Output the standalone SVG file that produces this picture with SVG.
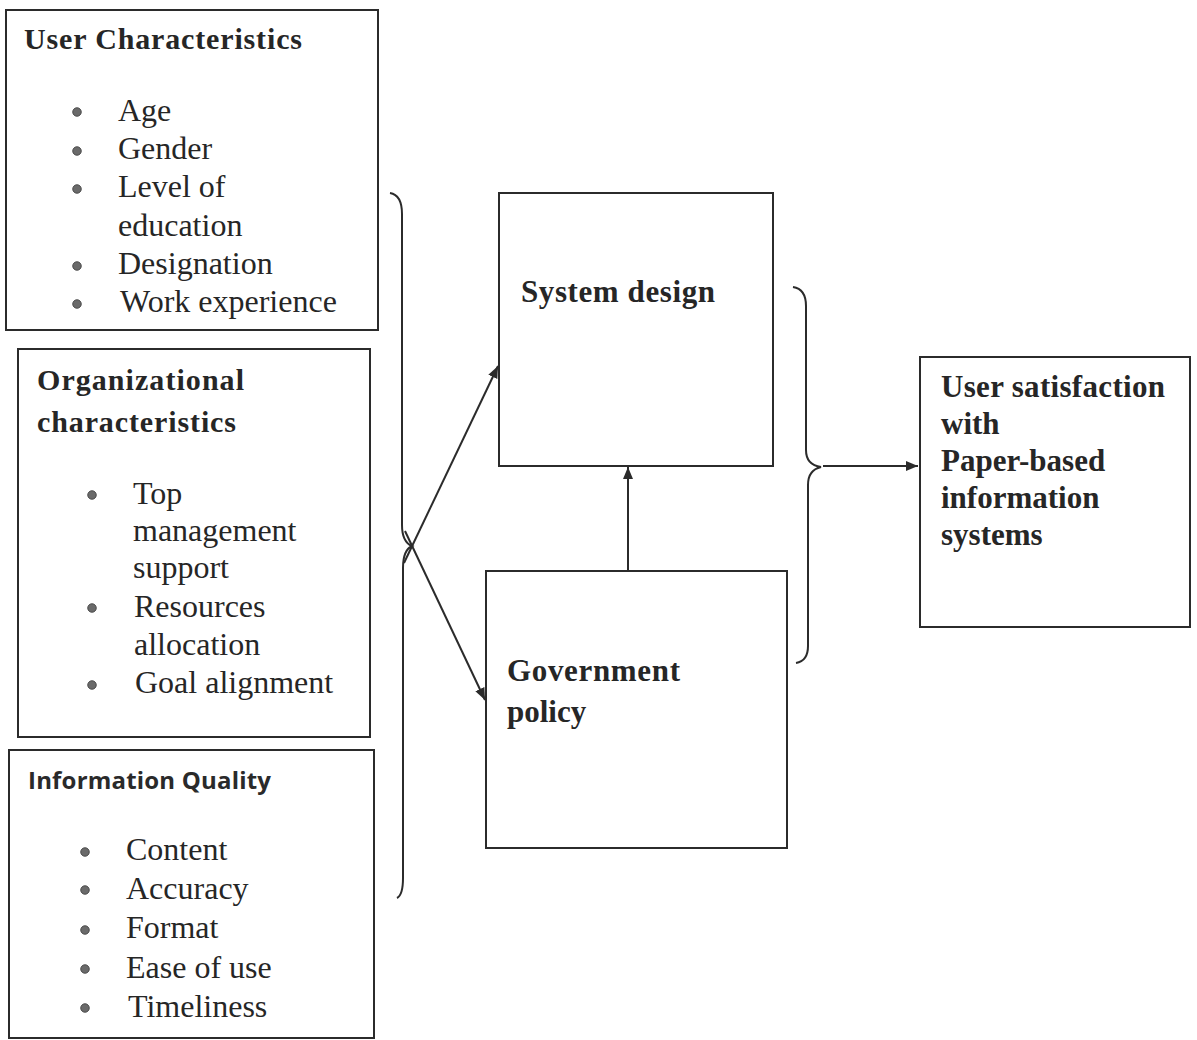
<svg xmlns="http://www.w3.org/2000/svg" width="1197" height="1040" viewBox="0 0 1197 1040">
<defs>
<style>
.box{fill:none;stroke:#2b2b2b;stroke-width:2}
.hd{font-family:"Liberation Serif","Times New Roman",serif;font-weight:bold;font-size:30px;fill:#262626}
.nd{font-family:"Liberation Serif","Times New Roman",serif;font-weight:bold;font-size:31px;fill:#262626}
.it{font-family:"Liberation Serif","Times New Roman",serif;font-size:32px;fill:#262626}
.sh{font-family:"Open Sans","Liberation Sans",sans-serif;font-weight:700;font-size:24px;fill:#2a2a2a}
.bl{fill:#6a6a6a;stroke:#3a3a3a;stroke-width:0.8}
.ln{fill:none;stroke:#2b2b2b;stroke-width:2}
</style>
<marker id="ah" viewBox="0 0 12 10" refX="12" refY="5" markerWidth="12" markerHeight="10" markerUnits="userSpaceOnUse" orient="auto">
<path d="M0,0 L12,5 L0,10 Z" fill="#2b2b2b"/>
</marker>
</defs>
<rect width="1197" height="1040" fill="#ffffff"/>

<g id="user-characteristics">
<rect class="box" x="6" y="10" width="372" height="320"/>
<text class="hd" x="24" y="49" textLength="278">User Characteristics</text>
<circle class="bl" cx="77" cy="112" r="4.3"/>
<circle class="bl" cx="77" cy="151" r="4.3"/>
<circle class="bl" cx="77" cy="189" r="4.3"/>
<circle class="bl" cx="77" cy="266" r="4.3"/>
<circle class="bl" cx="77" cy="304" r="4.3"/>
<text class="it" x="118" y="121">Age</text>
<text class="it" x="118" y="159">Gender</text>
<text class="it" x="118" y="197">Level of</text>
<text class="it" x="118" y="236">education</text>
<text class="it" x="118" y="274">Designation</text>
<text class="it" x="120" y="312">Work experience</text>
</g>

<g id="organizational-characteristics">
<rect class="box" x="18" y="349" width="352" height="388"/>
<text class="hd" x="37" y="390" textLength="207">Organizational</text>
<text class="hd" x="37" y="432" textLength="199">characteristics</text>
<circle class="bl" cx="92" cy="495" r="4.3"/>
<circle class="bl" cx="92" cy="608" r="4.3"/>
<circle class="bl" cx="92" cy="685" r="4.3"/>
<text class="it" x="133" y="504">Top</text>
<text class="it" x="133" y="541">management</text>
<text class="it" x="133" y="578">support</text>
<text class="it" x="134" y="617">Resources</text>
<text class="it" x="134" y="655">allocation</text>
<text class="it" x="135" y="693">Goal alignment</text>
</g>

<g id="information-quality">
<rect class="box" x="9" y="750" width="365" height="288"/>
<text class="sh" x="28" y="789" textLength="243">Information Quality</text>
<circle class="bl" cx="85" cy="852" r="4.3"/>
<circle class="bl" cx="85" cy="890" r="4.3"/>
<circle class="bl" cx="85" cy="930" r="4.3"/>
<circle class="bl" cx="85" cy="969" r="4.3"/>
<circle class="bl" cx="85" cy="1008" r="4.3"/>
<text class="it" x="126" y="860">Content</text>
<text class="it" x="126" y="899">Accuracy</text>
<text class="it" x="126" y="938">Format</text>
<text class="it" x="126" y="978">Ease of use</text>
<text class="it" x="128" y="1017">Timeliness</text>
</g>

<g id="system-design">
<rect class="box" x="499" y="193" width="274" height="273"/>
<text class="nd" x="521" y="302" textLength="194">System design</text>
</g>

<g id="government-policy">
<rect class="box" x="486" y="571" width="301" height="277"/>
<text class="nd" x="507" y="681" textLength="173">Government</text>
<text class="nd" x="507" y="722">policy</text>
</g>

<g id="user-satisfaction">
<rect class="box" x="920" y="357" width="270" height="270"/>
<text class="nd" x="941" y="397" textLength="224">User satisfaction</text>
<text class="nd" x="941" y="434">with</text>
<text class="nd" x="941" y="471">Paper-based</text>
<text class="nd" x="941" y="508">information</text>
<text class="nd" x="941" y="545">systems</text>
</g>

<g id="connectors">
<path class="ln" d="M390,193 Q402,195 402,214 L402,525 Q402,542 412,546 Q403,550 403,568 L403,878 Q403,895 397,898"/>
<path class="ln" d="M793,287 Q806,289 806,306 L806,450 Q806,465 821,467 Q808,470 808,485 L808,646 Q808,661 796,663"/>
<line class="ln" x1="404" y1="563" x2="498" y2="366" marker-end="url(#ah)"/>
<line class="ln" x1="405" y1="531" x2="485" y2="700" marker-end="url(#ah)"/>
<line class="ln" x1="628" y1="570" x2="628" y2="467" marker-end="url(#ah)"/>
<line class="ln" x1="823" y1="466" x2="918" y2="466" marker-end="url(#ah)"/>
</g>
</svg>
